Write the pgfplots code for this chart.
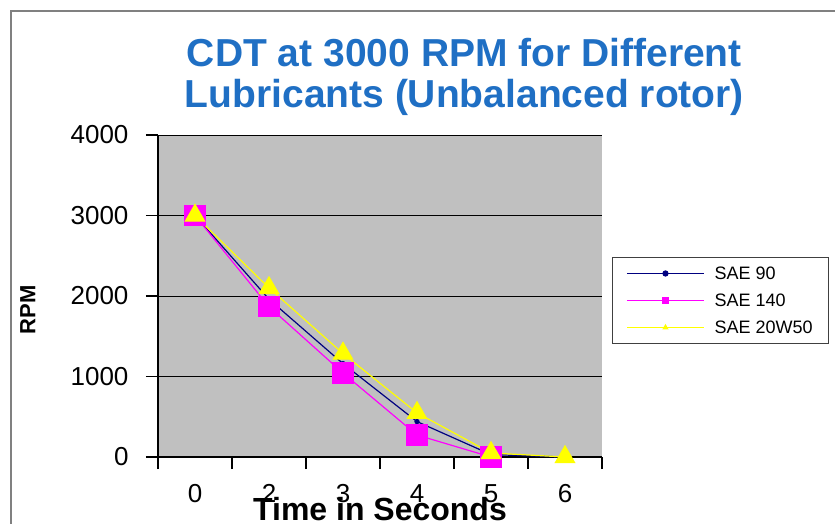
\documentclass[border=0pt]{standalone}
\usepackage{fontspec}
\setmainfont{Liberation Sans}
\usepackage{pgfplots}
\pgfplotsset{compat=1.18}
\definecolor{titleblue}{RGB}{31,111,196}
\definecolor{plotgray}{RGB}{192,192,192}
\definecolor{navyblue}{RGB}{0,0,128}
\definecolor{framegray}{RGB}{128,128,128}
\definecolor{mag}{RGB}{255,0,255}
\definecolor{yel}{RGB}{255,255,0}
\begin{document}
\begin{tikzpicture}[x=1pt,y=1pt]
\path[use as bounding box] (-158,-66) rectangle (677,457);
\fill[white] (-158,-66) rectangle (677,457);
\draw[framegray, line width=2.5pt] (-147,-80) -- (-147,446) -- (700,446);
\begin{axis}[
  at={(0,0)}, anchor=south west, scale only axis,
  width=444pt, height=322pt,
  xmin=-0.5, xmax=5.5, ymin=0, ymax=4000,
  axis x line*=bottom, axis y line*=left,
  axis line style={black, line width=1.2pt},
  axis background/.style={fill=plotgray},
  xtick={0,...,5}, xticklabels={0,2,3,4,5,6},
  major x tick style={draw=none},
  minor xtick={-0.5,0.5,...,5.5},
  minor x tick style={black, line width=1.2pt},
  minor tick length=12pt,
  ytick={0,1000,...,4000},
  major tick length=12pt,
  y tick style={black, line width=1.2pt},
  tick align=outside,
  ymajorgrids, grid style={black, line width=1pt},
  /pgf/number format/assume math mode=true,
  scaled y ticks=false,
  yticklabel style={/pgf/number format/1000 sep={}, xshift=-14pt},
  tick label style={font=\fontsize{26}{26}\selectfont},
  xticklabel style={yshift=-12pt},
  ylabel={\textbf{RPM}},
  every axis y label/.style={at={(axis description cs:-0.293,0.457)}, rotate=90, anchor=center, font=\fontsize{22}{22}\selectfont},
  xlabel={\textbf{Time in Seconds}},
  every axis x label/.style={at={(axis description cs:0.5,0)}, anchor=base, yshift=-63pt, font=\fontsize{32}{32}\selectfont},
  title={CDT at 3000 RPM for Different\\Lubricants (Unbalanced rotor)},
  title style={at={(axis description cs:0.69,1)}, anchor=south, yshift=10pt, align=center, text=titleblue, font=\bfseries\fontsize{39}{41}\selectfont},
  legend cell align=left,
  legend style={at={(axis description cs:1.0225,0.621)}, anchor=north west, draw=black!75, line width=0.8pt, fill=white, font=\fontsize{18}{18}\selectfont, row sep=9pt, inner xsep=14pt, inner ysep=7pt, /tikz/every odd column/.append style={column sep=8pt}},
  legend image code/.code={\draw[mark repeat=2,mark phase=2,#1] plot coordinates {(0pt,0pt) (38.5pt,0pt) (77pt,0pt)};},
  legend image post style={mark size=2.5pt},
]
\addplot[color=navyblue, line width=1.2pt, mark=*, mark size=2pt] coordinates {(0,3000) (1,1960) (2,1160) (3,440) (4,30) (5,0)};
\addlegendentry{SAE 90}
\addplot[color=mag, line width=1.2pt, mark=square*, mark size=10pt] coordinates {(0,3000) (1,1867) (2,1043) (3,273) (4,0)};
\addlegendentry{SAE 140}
\addplot[color=yel, line width=1.2pt, mark=triangle*, mark size=11pt] coordinates {(0,3000) (1,2100) (2,1285) (3,548) (4,50) (5,0)};
\addlegendentry{SAE 20W50}
\end{axis}
\end{tikzpicture}
\end{document}
